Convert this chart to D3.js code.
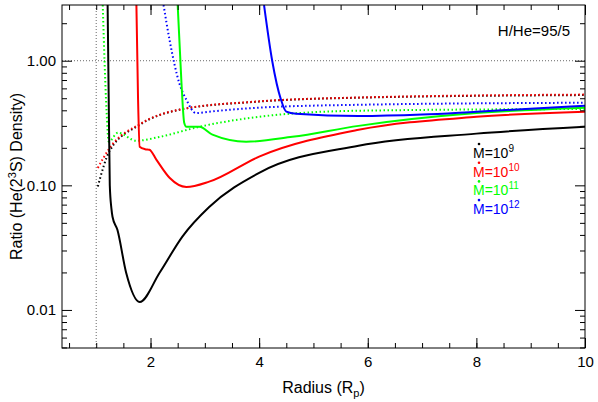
<!DOCTYPE html><html><head><meta charset="utf-8"><script src="https://cdn.jsdelivr.net/npm/d3@7"></script>
<style>body{margin:0;background:#fff}text{font-family:"Liberation Sans",Arial,sans-serif}</style></head><body><svg id="c" width="598" height="402"></svg><script>
const xTicks=[2,4,6,8,10];
const yTicks=[0.01,0.1,1];
const yTickLabels=["0.01","0.10","1.00"];
const colors=["#000","#f00","#0f0","#00f"];
const legendExp=["9","10","11","12"];
const solid9=[[1.21,2.8],[1.23,0.5],[1.25,0.1],[1.28,0.065],[1.30,0.056],[1.39,0.044],[1.55,0.02],[1.8,0.0116],[2.17,0.020],[2.59,0.039],[3.08,0.067],[4.0,0.126],[5.83,0.208],[8,0.26],[10,0.295]];
const solid10=[[1.74,2.8],[1.77,0.5],[1.80,0.204],[1.9,0.195],[1.98,0.193],[2.11,0.16],[2.35,0.115],[2.66,0.097],[3.08,0.107],[4.0,0.17],[5.83,0.279],[8,0.355],[10,0.39]];
const solid11=[[2.50,2.8],[2.57,0.66],[2.62,0.318],[2.66,0.295],[2.9,0.295],[3.14,0.255],[3.76,0.224],[4.61,0.245],[5.83,0.30],[8,0.38],[10,0.42]];
const solid12=[[4.09,2.8],[4.24,1.0],[4.40,0.49],[4.50,0.39],[4.68,0.375],[5.83,0.36],[7,0.37],[8,0.39],[10,0.435]];
const dot9=[[1.03,0.098],[1.25,0.19],[1.8,0.306],[2.53,0.404],[4.0,0.47],[5.83,0.505],[10,0.53]];
const dot10=[[1.03,0.138],[1.25,0.2],[1.8,0.31],[2.53,0.405],[4.0,0.472],[5.83,0.507],[10,0.535]];
const dot11=[[1.12,2.8],[1.19,0.40],[1.23,0.224],[1.40,0.264],[1.74,0.228],[2.17,0.245],[2.9,0.295],[4.0,0.355],[5.83,0.397],[10,0.41]];
const dot12=[[2.24,2.8],[2.35,1.47],[2.53,0.66],[2.66,0.486],[2.84,0.38],[3.08,0.39],[4.0,0.42],[5.83,0.443],[10,0.46]];
const solids=[solid9,solid10,solid11,solid12],dots=[dot9,dot10,dot11,dot12];
const L=62,R=585,T=5,B=348;
const x=d3.scaleLinear().domain([0.37,10]).range([L,R]);
const y=d3.scaleLog().domain([0.00495,2.8]).range([B,T]);
const svg=d3.select("#c");
svg.append("defs").append("clipPath").attr("id","cp").append("rect").attr("x",L).attr("y",T).attr("width",R-L).attr("height",B-T);
svg.append("line").attr("x1",L).attr("x2",R).attr("y1",y(1)).attr("y2",y(1)).attr("stroke","#000").attr("stroke-width",0.6).attr("stroke-dasharray","1,2");
svg.append("line").attr("x1",x(1)).attr("x2",x(1)).attr("y1",T).attr("y2",B).attr("stroke","#000").attr("stroke-width",0.6).attr("stroke-dasharray","1,2");
const line=d3.line().x(d=>x(d[0])).y(d=>y(d[1])).curve(d3.curveMonotoneX);
const g=svg.append("g").attr("clip-path","url(#cp)");
dots.forEach((d,i)=>g.append("path").attr("d",line(d)).attr("fill","none").attr("stroke",colors[i]).attr("stroke-width",2).attr("stroke-dasharray","1.5,2.5"));
solids.forEach((d,i)=>g.append("path").attr("d",line(d)).attr("fill","none").attr("stroke",colors[i]).attr("stroke-width",2));
svg.append("rect").attr("x",L).attr("y",T).attr("width",R-L).attr("height",B-T).attr("fill","none").attr("stroke","#000");
const minorX=d3.range(0.5,10.01,0.5);
const xs=d3.axisBottom(x).tickValues(xTicks).tickSize(-10).tickPadding(8).tickFormat(d3.format("d"));
const ax=svg.append("g").attr("transform",`translate(0,${B})`).call(xs);
ax.select(".domain").remove();ax.selectAll("text").attr("font-size",15).style("font-family","Liberation Sans");
svg.append("g").attr("transform",`translate(0,${B})`).call(d3.axisBottom(x).tickValues(minorX).tickSize(-5).tickFormat("")).select(".domain").remove();
svg.append("g").attr("transform",`translate(0,${T})`).call(d3.axisTop(x).tickValues(xTicks).tickSize(-10).tickFormat("")).select(".domain").remove();
svg.append("g").attr("transform",`translate(0,${T})`).call(d3.axisTop(x).tickValues(minorX).tickSize(-5).tickFormat("")).select(".domain").remove();
const minorY=[];[0.001,0.01,0.1,1].forEach(b=>{for(let k=2;k<10;k++){const v=b*k;if(v>0.00495&&v<2.8)minorY.push(v);}});
const ay=svg.append("g").attr("transform",`translate(${L},0)`).call(d3.axisLeft(y).tickValues(yTicks).tickSize(-10).tickPadding(6).tickFormat((d,i)=>yTickLabels[i]));
ay.select(".domain").remove();ay.selectAll("text").attr("font-size",15).style("font-family","Liberation Sans");
svg.append("g").attr("transform",`translate(${L},0)`).call(d3.axisLeft(y).tickValues(minorY).tickSize(-5).tickFormat("")).select(".domain").remove();
svg.append("g").attr("transform",`translate(${R},0)`).call(d3.axisRight(y).tickValues(yTicks).tickSize(-10).tickFormat("")).select(".domain").remove();
svg.append("g").attr("transform",`translate(${R},0)`).call(d3.axisRight(y).tickValues(minorY).tickSize(-5).tickFormat("")).select(".domain").remove();
svg.selectAll(".tick line").attr("stroke","#000");
svg.append("text").attr("x",(L+R)/2).attr("y",393).attr("text-anchor","middle").attr("font-size",16).html('Radius (R<tspan font-size="11" dy="4">p</tspan><tspan dy="-4">)</tspan>');
svg.append("text").attr("transform",`translate(22,${(T+B)/2}) rotate(-90)`).attr("text-anchor","middle").attr("font-size",16).html('Ratio (He(2<tspan font-size="11" dy="-6">3</tspan><tspan dy="6">S) Density)</tspan>');
svg.append("text").attr("x",570).attr("y",36).attr("text-anchor","end").attr("font-size",15).text("H/He=95/5");
legendExp.forEach((e,i)=>{const ty=158+i*18.7;
 const t=svg.append("text").attr("x",473).attr("y",ty).attr("font-size",14).attr("fill",colors[i]).html(`M=10<tspan font-size="10" dy="-6">${e}</tspan>`);
 svg.append("circle").attr("cx",479).attr("cy",ty-14).attr("r",1.3).attr("fill",colors[i]);});
</script></body></html>
